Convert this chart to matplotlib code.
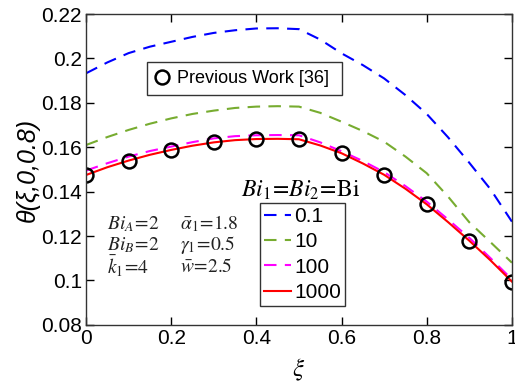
import numpy as np
import matplotlib
matplotlib.use("Agg")
import matplotlib.pyplot as plt

plt.rcParams['font.family'] = ['Liberation Sans', 'DejaVu Sans']
plt.rcParams['mathtext.fontset'] = 'stix'

# datos
xi = [0.0, 0.05, 0.1, 0.15, 0.2, 0.25, 0.3, 0.35, 0.4, 0.45, 0.5,
      0.55, 0.6, 0.65, 0.7, 0.75, 0.8, 0.85, 0.9, 0.95, 1.0]
bi_01 = [0.1933, 0.1982, 0.2024, 0.2053, 0.2075, 0.2097, 0.2115, 0.2127, 0.2135, 0.2136, 0.2132,
         0.2085, 0.2023, 0.1970, 0.1910, 0.1835, 0.1750, 0.1645, 0.1530, 0.1410, 0.1265]
bi_10 = [0.1610, 0.1646, 0.1678, 0.1706, 0.1730, 0.1750, 0.1765, 0.1777, 0.1783, 0.1785, 0.1783,
         0.1755, 0.1715, 0.1673, 0.1625, 0.1558, 0.1483, 0.1378, 0.1262, 0.1172, 0.1080]
bi_100 = [0.1495, 0.1528, 0.1558, 0.1583, 0.1603, 0.1623, 0.1640, 0.1650, 0.1654, 0.1655, 0.1654,
          0.1622, 0.1582, 0.1538, 0.1488, 0.1425, 0.1355, 0.1275, 0.1192, 0.1100, 0.1005]
bi_1000 = [0.1475, 0.1510, 0.1540, 0.1566, 0.1588, 0.1607, 0.1622, 0.1632, 0.1637, 0.1638, 0.1636,
           0.1608, 0.1573, 0.1527, 0.1476, 0.1413, 0.1343, 0.1263, 0.1179, 0.1090, 0.0995]

prev_x = [0.0, 0.1, 0.2, 0.3, 0.4, 0.5, 0.6, 0.7, 0.8, 0.9, 1.0]
prev_y = [0.1475, 0.1540, 0.1588, 0.1622, 0.1638, 0.1635, 0.1573, 0.1476, 0.1343, 0.1179, 0.0995]

labels = ['0.1', '10', '100', '1000']
colores = ['#0000ff', '#77ac30', '#ff00ff', '#ff0000']

fig = plt.figure(figsize=(5.15, 3.9), dpi=100)
ax = fig.add_axes([0.167, 0.167, 0.827, 0.797])

series = [bi_01, bi_10, bi_100, bi_1000]
curvas = []
for i, s in enumerate(series):
    l, = ax.plot(xi, s, color=colores[i], lw=1.5, label=labels[i])
    if labels[i] != '1000':
        l.set_dashes([6, 4])
    curvas.append(l)

prev, = ax.plot(prev_x, prev_y, 'o', ms=10, mfc='none', mec='black', mew=1.8,
                label='Previous Work [36] ')

ax.set_xlim(0, 1)
ax.set_ylim(0.08, 0.22)
ax.set_xticks([0, 0.2, 0.4, 0.6, 0.8, 1])
ax.set_xticklabels(['0', '0.2', '0.4', '0.6', '0.8', '1'])
ax.set_yticks([0.08, 0.1, 0.12, 0.14, 0.16, 0.18, 0.2, 0.22])
ax.set_yticklabels(['0.08', '0.1', '0.12', '0.14', '0.16', '0.18', '0.2', '0.22'])
ax.tick_params(direction='in', length=6, width=1, top=True, right=True,
               labelsize=15, pad=3, colors='black')
for sp in ax.spines.values():
    sp.set_linewidth(1)
    sp.set_color('#333333')

ax.set_ylabel('θ(ξ,0,0.8)', fontsize=18, style='italic', labelpad=1)
ax.set_xlabel(r'$\xi$', fontsize=18, labelpad=6)

leg1 = ax.legend(handles=[prev], loc='upper left', bbox_to_anchor=(0.143, 0.845),
                 fontsize=13, frameon=True, fancybox=False, edgecolor='black',
                 handlelength=0.8, handletextpad=0.4, borderpad=0.45, borderaxespad=0)
leg1.get_frame().set_linewidth(1)
ax.add_artist(leg1)

leg2 = ax.legend(handles=curvas, loc='upper left', bbox_to_anchor=(0.408, 0.392),
                 fontsize=15, frameon=True, fancybox=False, edgecolor='black',
                 handlelength=1.3, handletextpad=0.15, borderpad=0.2,
                 labelspacing=0.3, borderaxespad=0)
leg2.get_frame().set_linewidth(1)

ax.text(0.365, 0.432, r'$Bi_1\!=\!Bi_2\!=\!\mathrm{Bi}$', transform=ax.transAxes,
        fontsize=17, ha='left', va='center')

params = [r'$Bi_A\!=\!2$', r'$Bi_B\!=\!2$', r'$\bar{k}_1\!=\!4$']
params2 = [r'$\bar{\alpha}_1\!=\!1.8$', r'$\gamma_1\!=\!0.5$', r'$\bar{w}\!=\!2.5$']
for i in range(3):
    ax.text(0.05, 0.325 - i * 0.069, params[i], transform=ax.transAxes, fontsize=14,
            ha='left', va='center', color='#222222')
    ax.text(0.22, 0.325 - i * 0.069, params2[i], transform=ax.transAxes, fontsize=14,
            ha='left', va='center', color='#222222')

fig.savefig('out.png', dpi=100)
